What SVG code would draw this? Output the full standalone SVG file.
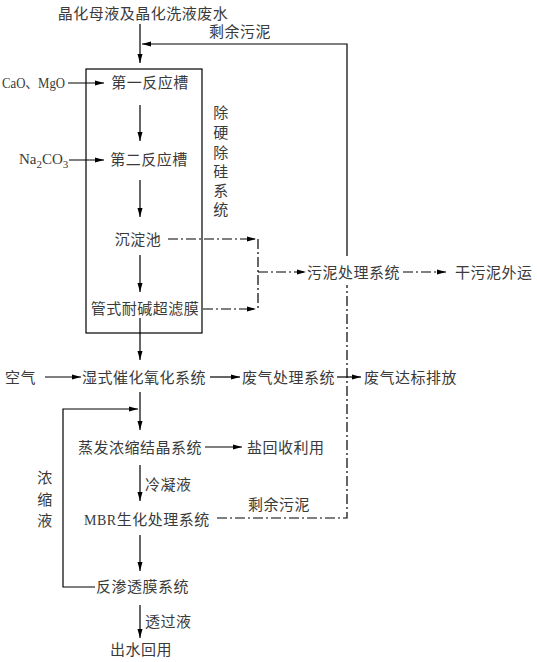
<svg xmlns="http://www.w3.org/2000/svg" width="537" height="662" viewBox="0 0 537 662">
<defs>
<style>
.t{font-family:"Noto Sans CJK SC","Noto Sans",sans-serif;font-size:15px;fill:#3a3a3a;letter-spacing:0.5px}
.l{font-family:"Liberation Serif","Noto Sans CJK SC",serif;font-size:15px;fill:#3a3a3a}
.s{fill:none;stroke:#000;stroke-width:1.2}
.d{fill:none;stroke:#000;stroke-width:1.2;stroke-dasharray:10,3,2,3}
.a{marker-end:url(#ah)}
</style>
<marker id="ah" markerUnits="userSpaceOnUse" markerWidth="9" markerHeight="6" refX="9" refY="3" orient="auto">
<path d="M0,0.5 L9,3 L0,5.5 z" fill="#000"/>
</marker>
</defs>
<rect width="537" height="662" fill="#fff"/>
<g id="connectors">
<path class="s a" d="M140,24 V63"/>
<path class="s a" d="M347,256 V44 H142"/>
<path class="s a" d="M68,83 H104"/>
<path class="s a" d="M140,105 V141"/>
<path class="s a" d="M69,160 H104"/>
<path class="s a" d="M140,180 V217"/>
<path class="d a" d="M168,239 H256"/>
<path class="d" d="M258,239 V309"/>
<path class="d a" d="M203,309 H256"/>
<path class="d a" d="M258,272 H306"/>
<path class="d a" d="M403,272 H446"/>
<path class="s a" d="M140,255 V292"/>
<path class="s a" d="M140,318 V360"/>
<path class="s a" d="M45,377 H81"/>
<path class="s a" d="M210,377 H240"/>
<path class="s a" d="M337,377 H361"/>
<path class="s a" d="M140,392 V430"/>
<path class="s a" d="M95,587 H63 V409 H138"/>
<path class="s a" d="M205,447 H242"/>
<path class="s a" d="M140,465 V501"/>
<path class="d" d="M217,518 H347 V285"/>
<path class="s a" d="M140,535 V571"/>
<path class="s a" d="M140,605 V638"/>
</g>
<g id="source"><text class="t" x="143" y="19" text-anchor="middle">晶化母液及晶化洗液废水</text></g>
<g id="sludge-return-label"><text class="t" x="240" y="37" text-anchor="middle">剩余污泥</text></g>
<g id="softening-system">
<rect x="86" y="69" width="116" height="264" fill="none" stroke="#000" stroke-width="1.2"/>
<text class="t" x="221" y="118" text-anchor="middle">除</text>
<text class="t" x="221" y="138" text-anchor="middle">硬</text>
<text class="t" x="221" y="158" text-anchor="middle">除</text>
<text class="t" x="221" y="177" text-anchor="middle">硅</text>
<text class="t" x="221" y="196" text-anchor="middle">系</text>
<text class="t" x="221" y="215" text-anchor="middle">统</text>
</g>
<g id="reagent1"><text class="l" x="2" y="88" textLength="63" lengthAdjust="spacingAndGlyphs">CaO、MgO</text></g>
<g id="tank1"><text class="t" x="150" y="88" text-anchor="middle">第一反应槽</text></g>
<g id="reagent2"><text class="l" x="19" y="164">Na<tspan font-size="11" dy="4">2</tspan><tspan dy="-4">CO</tspan><tspan font-size="11" dy="4">3</tspan></text></g>
<g id="tank2"><text class="t" x="149" y="165" text-anchor="middle">第二反应槽</text></g>
<g id="settler"><text class="t" x="138" y="245" text-anchor="middle">沉淀池</text></g>
<g id="uf"><text class="t" x="145" y="314" text-anchor="middle">管式耐碱超滤膜</text></g>
<g id="sludge-system"><text class="t" x="307" y="278">污泥处理系统</text></g>
<g id="dry-sludge"><text class="t" x="455" y="278">干污泥外运</text></g>
<g id="air"><text class="t" x="5" y="383">空气</text></g>
<g id="wao"><text class="t" x="82" y="383">湿式催化氧化系统</text></g>
<g id="gas-treat"><text class="t" x="242" y="383">废气处理系统</text></g>
<g id="gas-out"><text class="t" x="364" y="383">废气达标排放</text></g>
<g id="evap"><text class="t" x="78" y="453">蒸发浓缩结晶系统</text></g>
<g id="salt"><text class="t" x="247" y="453">盐回收利用</text></g>
<g id="concentrate-label">
<text class="t" x="45" y="483" text-anchor="middle">浓</text>
<text class="t" x="45" y="505" text-anchor="middle">缩</text>
<text class="t" x="45" y="526" text-anchor="middle">液</text>
</g>
<g id="condensate-label"><text class="t" x="145" y="490">冷凝液</text></g>
<g id="mbr"><text class="t" x="84" y="525"><tspan class="l" style="font-size:14px">MBR</tspan>生化处理系统</text></g>
<g id="sludge-label2"><text class="t" x="248" y="510">剩余污泥</text></g>
<g id="ro"><text class="t" x="96" y="592">反渗透膜系统</text></g>
<g id="permeate-label"><text class="t" x="145" y="627">透过液</text></g>
<g id="reuse"><text class="t" x="110" y="655">出水回用</text></g>
</svg>
